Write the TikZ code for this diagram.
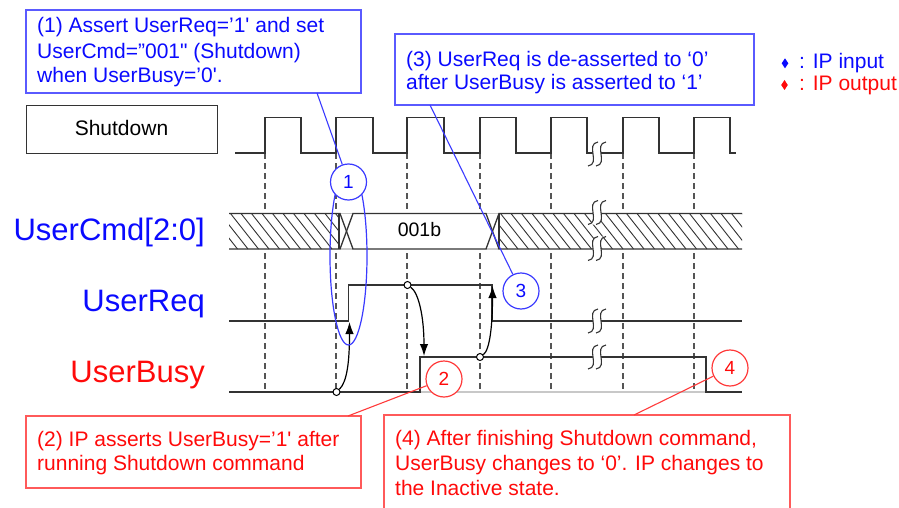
\documentclass[tikz,border=0pt]{standalone}
\usepackage{fontspec}
\setmainfont{Liberation Sans}[Ligatures=TeXOff]
\usetikzlibrary{arrows.meta}
\definecolor{sigc}{HTML}{333333}
\definecolor{dashc}{HTML}{555555}
\definecolor{tblue}{HTML}{0A0AFF}
\definecolor{bblue}{HTML}{5A5AFF}
\definecolor{cblue}{HTML}{3A3AFF}
\definecolor{tred}{HTML}{FF0A0A}
\definecolor{bred}{HTML}{FF5A5A}
\definecolor{cred}{HTML}{FF3A3A}
\definecolor{lgray}{HTML}{C8C8C8}
\newcommand\brkmark[1]{%
 \fill[white] (598,{#1-12}) .. controls (585,{#1-10}) and (601,{#1+10}) .. (588,{#1+12}) -- (596,{#1+12}) .. controls (609,{#1+10}) and (593,{#1-10}) .. (606,{#1-12}) -- cycle;
 \draw[sig, line width=1.1pt] (598,{#1-12}) .. controls (585,{#1-10}) and (601,{#1+10}) .. (588,{#1+12});
 \draw[sig, line width=1.1pt] (606,{#1-12}) .. controls (593,{#1-10}) and (609,{#1+10}) .. (596,{#1+12});
}
\begin{document}
\begin{tikzpicture}[x=1pt,y=-1pt,
  sig/.style={draw=sigc, line width=1.3pt},
  guide/.style={draw=dashc, line width=1.2pt, dash pattern=on 6pt off 4pt},
  hatch/.style={draw=sigc, line width=0.9pt},
  bbox/.style={draw=bblue, line width=1.3pt, fill=white, inner sep=0pt, outer sep=0pt, anchor=north west},
  rbox/.style={draw=bred, line width=1.3pt, fill=white, inner sep=0pt, outer sep=0pt, anchor=north west},
  btxt/.style={anchor=base west, inner sep=0pt, text=tblue, font=\fontsize{21}{25}\selectfont},
  rtxt/.style={anchor=base west, inner sep=0pt, text=tred, font=\fontsize{21}{25}\selectfont},
  bigl/.style={anchor=base east, inner sep=0pt, font=\fontsize{31}{31}\selectfont},
  bcirc/.style={circle, draw=cblue, line width=1.2pt, fill=white, minimum size=36pt, inner sep=0pt, text=tblue, font=\fontsize{19}{19}\selectfont},
  rcirc/.style={circle, draw=cred, line width=1.2pt, fill=white, minimum size=36pt, inner sep=0pt, text=tred, font=\fontsize{19}{19}\selectfont},
  lead/.style={line width=1.1pt},
  dotc/.style={circle, draw=black, fill=white, line width=1pt, minimum size=7pt, inner sep=0pt},
  arr/.style={draw=black, line width=1.2pt, -{Latex[length=12pt,width=8.5pt]}}
]
\useasboundingbox (0,0) rectangle (899,508);
\clip (0,0) rectangle (899,508);

% guide lines
\foreach \gx in {265,336,407,480,551,623,694}
  \draw[guide] (\gx,153) -- (\gx,390);

% clock
\draw[sig] (235,153) -- (265,153) -- (265,117.5) -- (301,117.5) -- (301,153) -- (336,153) -- (336,117.5) -- (373,117.5) -- (373,153) -- (407,153) -- (407,117.5) -- (444,117.5) -- (444,153) -- (480,153) -- (480,117.5) -- (516,117.5) -- (516,153) -- (551,153) -- (551,117.5) -- (587,117.5) -- (587,153) -- (623,153) -- (623,117.5) -- (659,117.5) -- (659,153) -- (694,153) -- (694,117.5) -- (730,117.5) -- (730,153) -- (736,153);

% bus
\fill[white] (229,213.5) rectangle (742,249);
\begin{scope}
  \clip (229,213.5) rectangle (339,249);
  \foreach \i in {0,...,14} \draw[hatch] ({199+\i*10.5},213.5) -- ++(28,35.5);
\end{scope}
\begin{scope}
  \clip (499,213.5) rectangle (742,249);
  \foreach \i in {0,...,27} \draw[hatch] ({469+\i*10.5},213.5) -- ++(28,35.5);
\end{scope}
\draw[lgray, line width=1.3pt] (340,213.5) -- (353,213.5) (340,249) -- (353,249) (486,213.5) -- (499,213.5) (486,249) -- (499,249);
\draw[sig] (229,213.5) -- (340,213.5) -- (353,249) -- (486,249) -- (499,213.5) -- (742,213.5);
\draw[sig] (229,249) -- (340,249) -- (353,213.5) -- (486,213.5) -- (499,249) -- (742,249);
\draw[sig] (339,213.5) -- (339,249) (499,213.5) -- (499,249);
\node[anchor=base, inner sep=0pt, font=\fontsize{19.5}{19.5}\selectfont] (val) at (419.5,236.7) {001b};

% UserReq
\draw[sig] (229,321) -- (348.5,321) -- (348.5,285) -- (492,285) -- (492,321) -- (742,321);
% UserBusy
\draw[lgray, line width=1.5pt] (420,392) -- (706,392);
\draw[sig] (229,392) -- (420,392) -- (420,357) -- (706,357) -- (706,392) -- (742,392);

% break marks
\brkmark{154}
\brkmark{212.5}
\brkmark{248.5}
\brkmark{321}
\brkmark{357}

% labels
\node[draw=sigc, line width=1.3pt, minimum width=191pt, minimum height=48pt, inner sep=0pt, anchor=north west] (sd) at (26,105) {};
\node[anchor=base, inner sep=0pt, font=\fontsize{21}{21}\selectfont] (sdt) at (121.5,135.5) {Shutdown};
\node[bigl, text=tblue] (lcmd) at (205,240.5) {UserCmd[2:0]};
\node[bigl, text=tblue] (lreq) at (205,311.7) {UserReq};
\node[bigl, text=tred] (lbusy) at (205,382.7) {UserBusy};

% causal arrows
\node[dotc] (a1) at (336.5,392) {};
\node[dotc] (a2) at (407.5,285) {};
\node[dotc] (a3) at (480,357) {};
\coordinate (t1) at (349.5,322);
\coordinate (t2) at (424,356);
\coordinate (t3) at (492.5,286);
\draw[arr] (a1) .. controls (347,382) and (349.5,362) .. (t1);
\draw[arr] (a2) .. controls (419,293) and (424,318) .. (t2);
\draw[arr] (a3) .. controls (490,350) and (492.5,324) .. (t3);

% ellipse of note 1
\draw[cblue, line width=1.2pt] (348.5,256) ellipse [x radius=18.5, y radius=89];

% annotation circles
\node[bcirc] (c1) at (348.5,182) {1};
\node[bcirc] (c3) at (521,291) {3};
\node[rcirc] (c2) at (444,379) {2};
\node[rcirc] (c4) at (730,368) {4};

% annotation boxes
\node[bbox, minimum width=335pt, minimum height=83pt] (b1) at (26,10) {};
\node[btxt] (b1a) at (37,33) {(1) Assert UserReq=’1' and set};
\node[btxt] (b1b) at (37,58.5) {UserCmd=”001" (Shutdown)};
\node[btxt] (b1c) at (37,83) {when UserBusy=’0'.};

\node[bbox, minimum width=359pt, minimum height=71pt] (b3) at (395,34) {};
\node[btxt] (b3a) at (406,66.5) {(3) UserReq is de-asserted to ‘0’};
\node[btxt] (b3b) at (406,90) {after UserBusy is asserted to ‘1’};

\node[rbox, minimum width=335pt, minimum height=72pt] (b2) at (26,416) {};
\node[rtxt] (b2a) at (37,446) {(2) IP asserts UserBusy=’1' after};
\node[rtxt] (b2b) at (37,470.7) {running Shutdown command};

\node[rbox, minimum width=406pt, minimum height=110pt] (b4) at (384,415) {};
\node[rtxt] (b4a) at (395,445.5) {(4) After finishing Shutdown command,};
\node[rtxt] (b4b) at (395,470.5) {UserBusy changes to ‘0’. IP changes to};
\node[rtxt] (b4c) at (395,495) {the Inactive state.};

% leaders
\draw[lead, draw=cblue] ([xshift=291pt]b1.south west) -- (c1);
\draw[lead, draw=cblue] ([xshift=35pt]b3.south west) -- (c3);
\draw[lead, draw=cred] ([xshift=322pt]b2.north west) -- (c2);
\draw[lead, draw=cred] ([xshift=250pt]b4.north west) -- (c4);

% legend
\fill[tblue] (785,58.3) -- (788.3,63.3) -- (785,68.3) -- (781.7,63.3) -- cycle;
\node[btxt] (lg1) at (799,68.5) {: IP input};
\fill[tred] (784.5,80) -- (787.8,85) -- (784.5,90) -- (781.2,85) -- cycle;
\node[rtxt] (lg2) at (799,91) {: IP output};
\end{tikzpicture}
\end{document}
